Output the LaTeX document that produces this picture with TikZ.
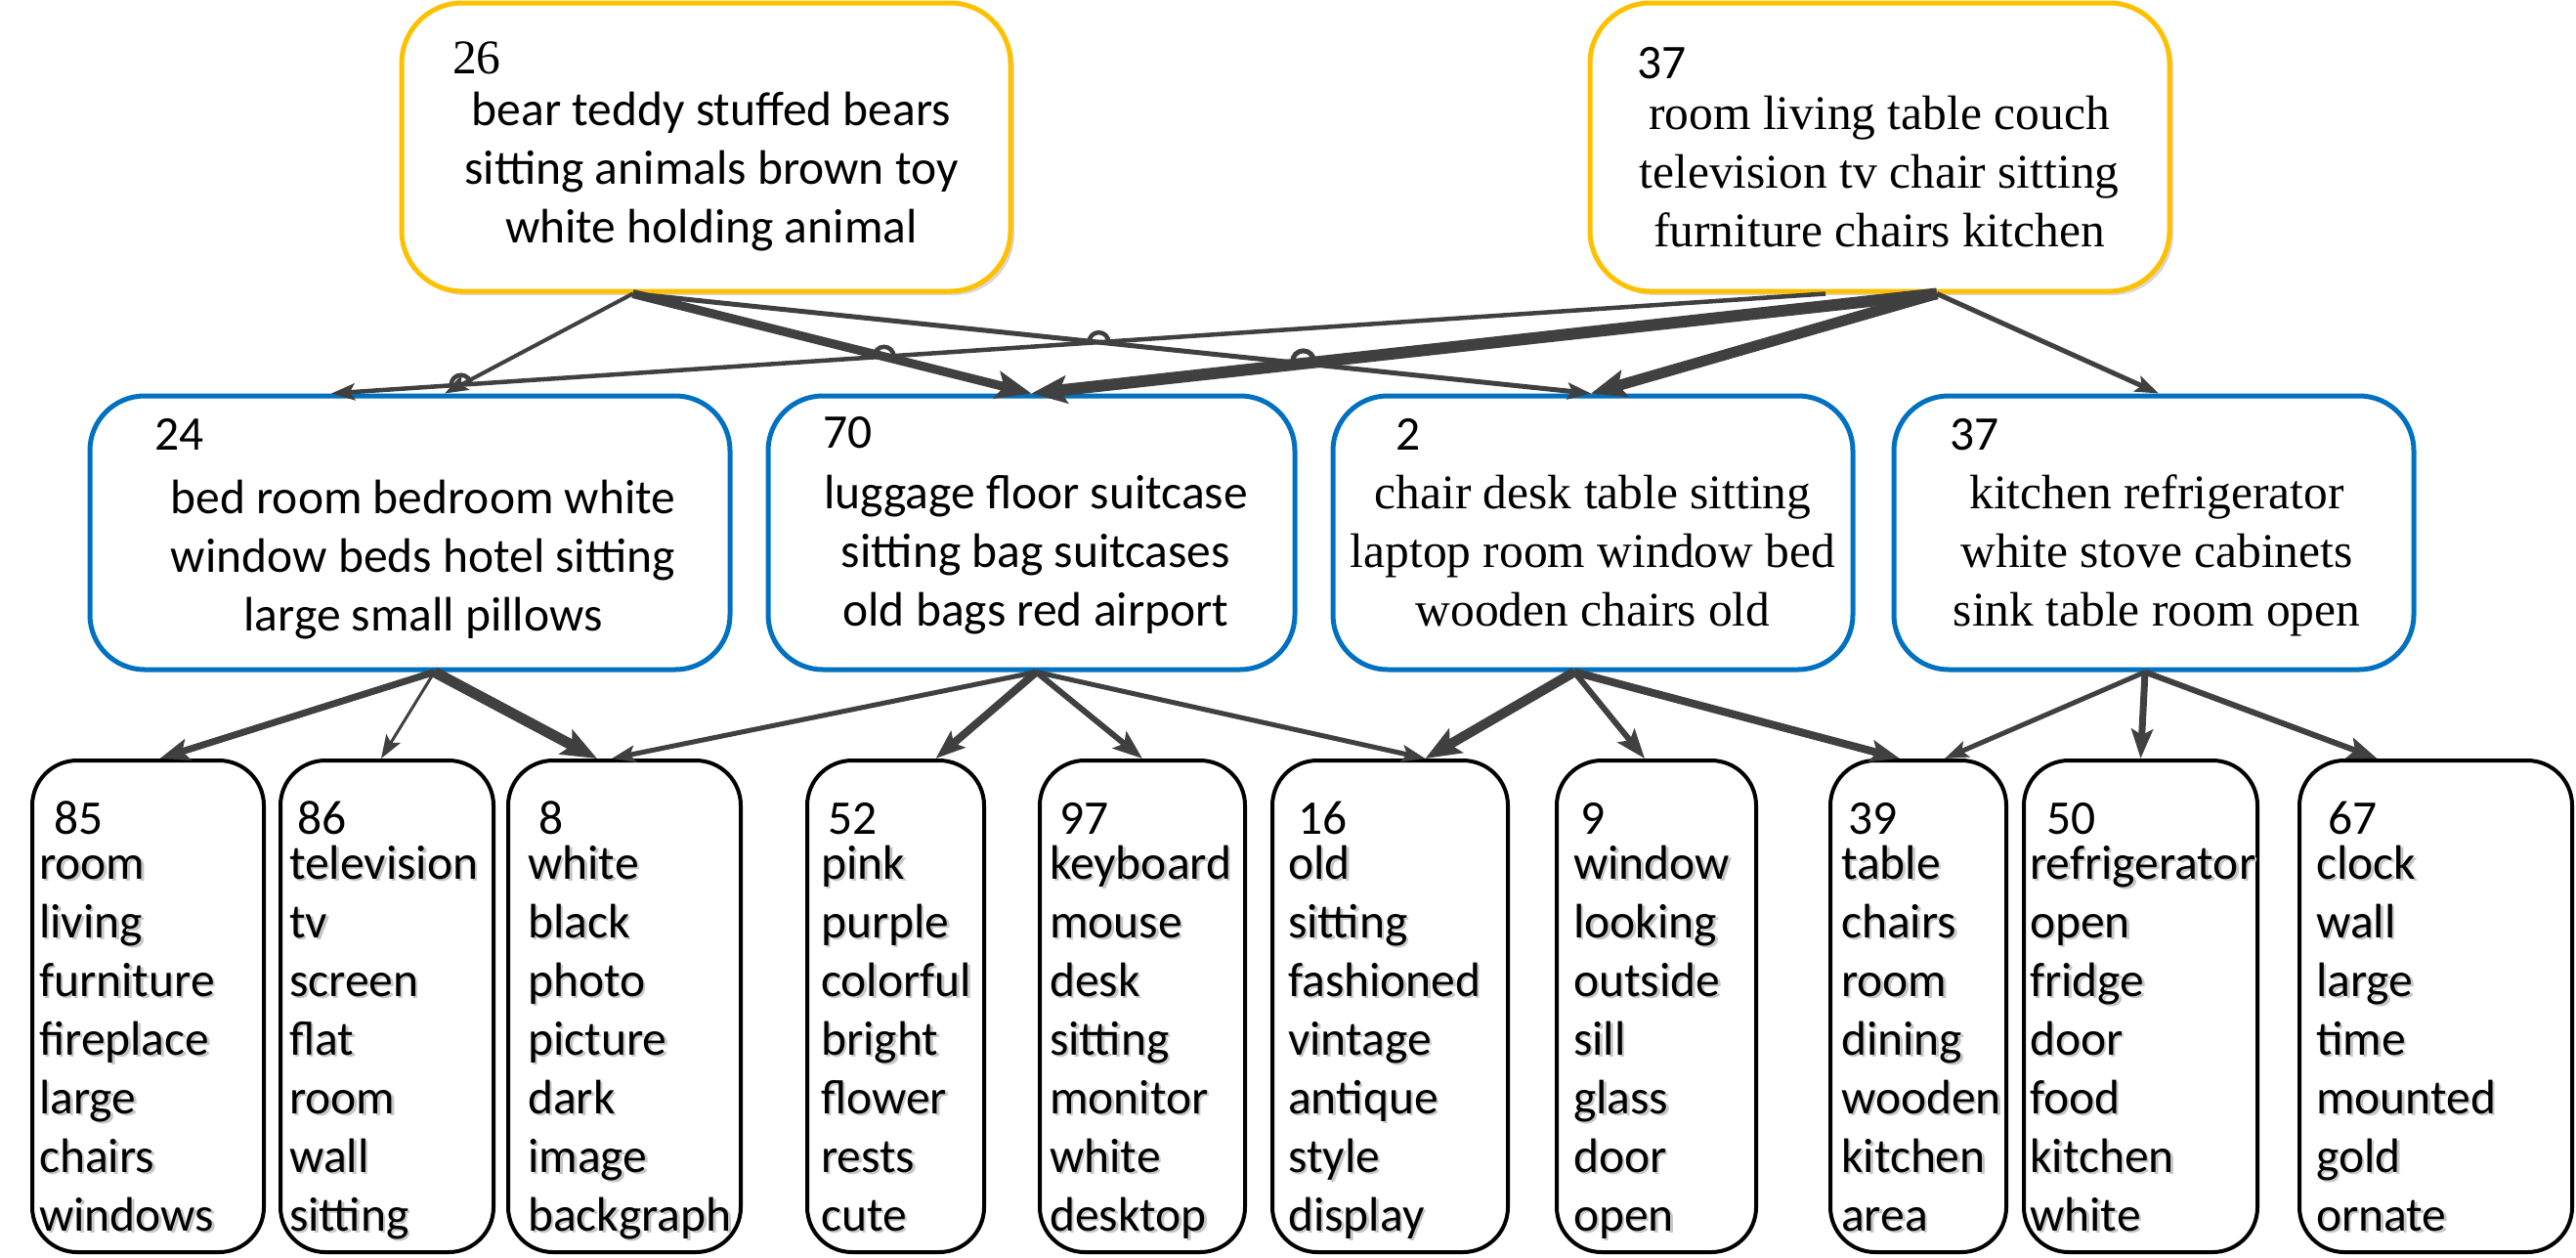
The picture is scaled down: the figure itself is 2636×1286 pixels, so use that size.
\documentclass[tikz,border=0pt]{standalone}
\usepackage{fontspec}
\setmainfont{Carlito}
\newfontfamily\tms{Liberation Serif}
\usetikzlibrary{arrows.meta,intersections,shadows,calc}
\definecolor{gold}{HTML}{FFC000}
\definecolor{oblue}{HTML}{0070C0}
\definecolor{cgray}{HTML}{404040}
\newcommand\colL[1]{\begin{tabular}[t]{@{}l@{}}#1\end{tabular}}
\newcommand\colC[1]{\begin{tabular}[t]{@{}c@{}}#1\end{tabular}}
\newcommand\shcol[1]{\rlap{\kern2.5pt\raisebox{-2.5pt}{\color{black!22}\colL{#1}}}\colL{#1}}
\tikzset{
  cal/.style={font=\fontsize{49.5}{60}\selectfont, inner sep=0pt},
  tim/.style={font=\tms\fontsize{49.5}{60}\selectfont, inner sep=0pt},
  topbox/.style={draw=gold, line width=5pt, rounded corners=62pt, fill=white,
    drop shadow={shadow xshift=4pt, shadow yshift=-4pt, fill=black!25, opacity=0.6},
    inner sep=0pt, minimum height=295pt},
  midbox/.style={draw=oblue, line width=5pt, rounded corners=56pt, fill=white,
    inner sep=0pt, minimum height=280pt},
  botbox/.style={draw=black, line width=4pt, rounded corners=46pt, fill=white,
    inner sep=0pt, minimum height=503pt},
  conn/.style={draw=cgray},
  hs/.style={-{Stealth[length=24pt,width=17pt,inset=5pt]}},
  hm/.style={-{Stealth[length=30pt,width=22pt,inset=6pt]}},
  hl/.style={-{Stealth[length=36pt,width=28pt,inset=7pt]}},
}
\begin{document}
\begin{tikzpicture}[x=1pt,y=-1pt]
\useasboundingbox (0,0) rectangle (2636,1286);

% ---------- top boxes ----------
\node[topbox, minimum width=623pt] (t1) at (722.5,150.5) {};
\node[topbox, minimum width=593pt] (t2) at (1923.5,150.5) {};
\node[tim, anchor=base west] (n26) at (463,75) {26};
\node[cal, anchor=base] (x26) at (728,128) {\colC{bear teddy stuffed bears\\sitting animals brown toy\\white holding animal}};
\node[cal, anchor=base west] (n37a) at (1675,80) {37};
\node[tim, anchor=base] (x37a) at (1923,132) {\colC{room living table couch\\television tv chair sitting\\furniture chairs kitchen}};

% ---------- middle boxes ----------
\node[midbox, minimum width=655pt] (m24) at (419.5,545) {};
\node[midbox, minimum width=539pt] (m70) at (1055.5,545) {};
\node[midbox, minimum width=532pt] (m2) at (1630,545) {};
\node[midbox, minimum width=532pt] (m37) at (2204,545) {};
\node[cal, anchor=base west] (n24) at (158,460) {24};
\node[cal, anchor=base] (x24) at (433,525) {\colC{bed room bedroom white\\window beds hotel sitting\\large small pillows}};
\node[cal, anchor=base west] (n70) at (842,458) {70};
\node[cal, anchor=base] (x70) at (1060,520) {\colC{luggage floor suitcase\\sitting bag suitcases\\old bags red airport}};
\node[cal, anchor=base west] (n2) at (1428,460) {2};
\node[tim, anchor=base] (x2) at (1630,520) {\colC{chair desk table sitting\\laptop room window bed\\wooden chairs old}};
\node[cal, anchor=base west] (n37b) at (1995,460) {37};
\node[tim, anchor=base] (x37b) at (2207,520) {\colC{kitchen refrigerator\\white stove cabinets\\sink table room open}};

% ---------- bottom boxes ----------
\node[botbox, minimum width=237pt] (b85) at (151.5,1029.5) {};
\node[botbox, minimum width=218pt] (b86) at (396,1029.5) {};
\node[botbox, minimum width=238pt] (b8) at (639,1029.5) {};
\node[botbox, minimum width=181pt] (b52) at (916.5,1029.5) {};
\node[botbox, minimum width=210pt] (b97) at (1169,1029.5) {};
\node[botbox, minimum width=241pt] (b16) at (1422.5,1029.5) {};
\node[botbox, minimum width=204pt] (b9) at (1695,1029.5) {};
\node[botbox, minimum width=180pt] (b39) at (1963,1029.5) {};
\node[botbox, minimum width=239pt] (b50) at (2190.5,1029.5) {};
\node[botbox, minimum width=279pt] (b67) at (2492.5,1029.5) {};

\node[cal, anchor=base west] (n85) at (55,853) {85};
\node[cal, anchor=base west] (w85) at (40,899) {\shcol{room\\living\\furniture\\fireplace\\large\\chairs\\windows}};
\node[cal, anchor=base west] (n86) at (304,853) {86};
\node[cal, anchor=base west] (w86) at (296,899) {\shcol{television\\tv\\screen\\flat\\room\\wall\\sitting}};
\node[cal, anchor=base west] (n8) at (551,853) {8};
\node[cal, anchor=base west] (w8) at (540,899) {\shcol{white\\black\\photo\\picture\\dark\\image\\backgraph}};
\node[cal, anchor=base west] (n52) at (847,853) {52};
\node[cal, anchor=base west] (w52) at (840,899) {\shcol{pink\\purple\\colorful\\bright\\flower\\rests\\cute}};
\node[cal, anchor=base west] (n97) at (1084,853) {97};
\node[cal, anchor=base west] (w97) at (1074,899) {\shcol{keyboard\\mouse\\desk\\sitting\\monitor\\white\\desktop}};
\node[cal, anchor=base west] (n16) at (1328,853) {16};
\node[cal, anchor=base west] (w16) at (1318,899) {\shcol{old\\sitting\\fashioned\\vintage\\antique\\style\\display}};
\node[cal, anchor=base west] (n9) at (1617,853) {9};
\node[cal, anchor=base west] (w9) at (1610,899) {\shcol{window\\looking\\outside\\sill\\glass\\door\\open}};
\node[cal, anchor=base west] (n39) at (1891,853) {39};
\node[cal, anchor=base west] (w39) at (1884,899) {\shcol{table\\chairs\\room\\dining\\wooden\\kitchen\\area}};
\node[cal, anchor=base west] (n50) at (2094,853) {50};
\node[cal, anchor=base west] (w50) at (2077,899) {\shcol{refrigerator\\open\\fridge\\door\\food\\kitchen\\white}};
\node[cal, anchor=base west] (n67) at (2382,853) {67};
\node[cal, anchor=base west] (w67) at (2370,899) {\shcol{clock\\wall\\large\\time\\mounted\\gold\\ornate}};

% ---------- top -> middle connectors ----------
\draw[conn, hs, line width=4pt, name path=pA1] ([xshift=-75pt]t1.south) -- ([xshift=35.5pt]m24.north);
\draw[conn, hl, line width=9pt, name path=pA2] ([xshift=-75pt]t1.south) -- (m70.north);
\draw[conn, hl, line width=12pt, name path=pA5] ([xshift=58.5pt]t2.south) -- (m70.north);
\draw[conn, hs, line width=5pt, name path=pA3] ([xshift=-75pt]t1.south) -- ([xshift=-2pt]m2.north);
\draw[conn, hl, line width=11pt] ([xshift=58.5pt]t2.south) -- ([xshift=-2pt]m2.north);
\draw[conn, hs, line width=5pt] ([xshift=58.5pt]t2.south) -- ([xshift=5pt]m37.north);
\draw[conn, hs, line width=4.5pt, name path=pA4] ([xshift=-55.5pt]t2.south) -- ([xshift=-80.5pt]m24.north);

% line hops
\path[name intersections={of=pA4 and pA1, by=h1}];
\path[name intersections={of=pA4 and pA2, by=h2}];
\path[name intersections={of=pA4 and pA3, by=h3}];
\path[name intersections={of=pA3 and pA5, by=h4}];
\draw[conn, line width=4.5pt] ($(h1)+(-10,0)$) arc[start angle=180, end angle=360, radius=10];
\draw[conn, line width=4.5pt] ($(h2)+(-10,0)$) arc[start angle=180, end angle=360, radius=10];
\draw[conn, line width=4.5pt] ($(h3)+(-10,0)$) arc[start angle=180, end angle=360, radius=10];
\draw[conn, line width=5pt] ($(h4)+(-11,-2)$) arc[start angle=180, end angle=360, radius=11];

% ---------- middle -> bottom connectors ----------
\draw[conn, hm, line width=7pt] ([xshift=25pt]m24.south) -- ([xshift=12pt]b85.north);
\draw[conn, hs, line width=3pt] ([xshift=25pt]m24.south) -- ([xshift=-6pt]b86.north);
\draw[conn, hl, line width=11pt] ([xshift=25pt]m24.south) -- ([xshift=-28pt]b8.north);
\draw[conn, hs, line width=5pt] ([xshift=5pt]m70.south) -- ([xshift=-13pt]b8.north);
\draw[conn, hm, line width=8pt] ([xshift=5pt]m70.south) -- ([xshift=41pt]b52.north);
\draw[conn, hm, line width=6pt] ([xshift=5pt]m70.south) -- (b97.north);
\draw[conn, hs, line width=5pt] ([xshift=5pt]m70.south) -- ([xshift=36pt]b16.north);
\draw[conn, hl, line width=10pt] ([xshift=-19pt]m2.south) -- ([xshift=36pt]b16.north);
\draw[conn, hm, line width=6pt] ([xshift=-19pt]m2.south) -- ([xshift=-12pt]b9.north);
\draw[conn, hm, line width=8pt] ([xshift=-19pt]m2.south) -- ([xshift=-19pt]b39.north);
\draw[conn, hs, line width=5pt] ([xshift=-9pt]m37.south) -- ([xshift=27pt]b39.north);
\draw[conn, hm, line width=7pt] ([xshift=-9pt]m37.south) -- (b50.north);
\draw[conn, hm, line width=6pt] ([xshift=-9pt]m37.south) -- ([xshift=-60pt]b67.north);
\end{tikzpicture}
\end{document}
